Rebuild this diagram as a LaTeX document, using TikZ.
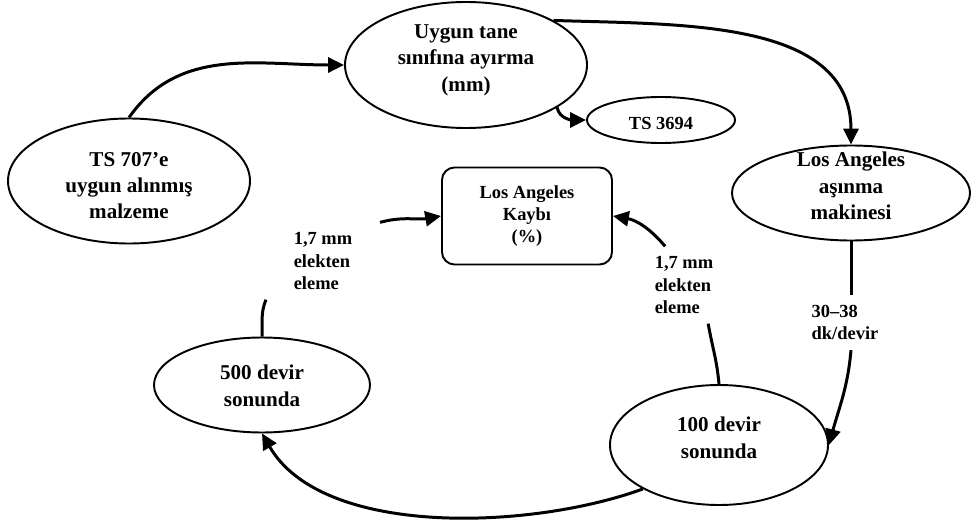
\documentclass[tikz,border=0pt]{standalone}
\usepackage{fontspec}
\setmainfont{Liberation Serif}
\usetikzlibrary{positioning,shapes,arrows.meta}
\tikzstyle{line} = [draw, -{Triangle[length=9pt,width=8.5pt]}, line width=1.7pt]
\tikzstyle{link} = [draw, line width=1.7pt]
\tikzstyle{oval} = [ellipse, draw=black, line width=1.1pt, inner sep=0pt, font=\fontsize{12}{15}\selectfont\bfseries]
\tikzstyle{note} = [align=left, inner xsep=0.55cm, inner ysep=0.2cm, font=\fontsize{10.5}{12.6}\selectfont\bfseries]
\newcommand{\Ov}[2][0pt]{\smash{\raisebox{#1}{\begin{tabular}{@{}c@{}}#2\end{tabular}}}}

\begin{document}
\begin{tikzpicture}[node distance=0.5cm, on grid]
\useasboundingbox (0,0) rectangle (19.42,-10.42);

\node (ts707) [oval, minimum width=4.84cm, minimum height=2.5cm] at (2.58,-3.62) {\Ov[-6.5pt]{TS 707'e\\uygun alınmış\\malzeme}};

\node (uygun) [oval, minimum width=4.84cm, minimum height=2.52cm, above right=2.32cm and 6.74cm of ts707] {\Ov{Uygun tane\\sınıfına ayırma\\(mm)}};
\path [line] (ts707.north) to[out=55,in=180] (uygun.west);

\node (ts3694) [oval, minimum width=2.96cm, minimum height=0.92cm, font=\fontsize{10.5}{12.6}\selectfont\bfseries, below right=1.1cm and 3.9cm of uygun] {\Ov[-5.5pt]{TS 3694}};
\path [line] (uygun.-25) to[out=-80,in=180] (ts3694.west);

\node (la) [oval, minimum width=4.76cm, minimum height=1.9cm, below right=2.56cm and 7.7cm of uygun] {\Ov{Los Angeles\\aşınma\\makinesi}};
\path [line] (uygun.27) to[out=-2,in=90] (la.north);

\node (kayip) [rectangle, rounded corners=0.25cm, draw=black, line width=1.1pt, minimum width=3.4cm, minimum height=1.94cm, align=center, font=\fontsize{10.5}{12.6}\selectfont\bfseries, below right=3.02cm and 1.22cm of uygun] {Los Angeles\\Kaybı\\(\%)};

\node (d100) [oval, minimum width=4.36cm, minimum height=2.4cm, below left=5.04cm and 2.64cm of la] {\Ov{100 devir\\sonunda}};

\node (rpm) [note, below left=2.59cm and 0.12cm of la] {30--38\\dk/devir};
\path [link] (la.south) -- (la.south |- rpm.north);
\path [line] (la.south |- rpm.south) to[out=-95,in=75] (d100.east);

\node (sieveR) [note, above left=3.2cm and 0.7cm of d100] {1,7 mm\\elekten\\eleme};
\path [link] (d100.north) to[out=95,in=-80] (sieveR.-58);
\path [line] (sieveR.116) to[out=130,in=-10] (kayip.east);

\node (d500) [oval, minimum width=4.32cm, minimum height=1.9cm, below right=4.08cm and 2.66cm of ts707] {\Ov[-4.5pt]{500 devir\\sonunda}};
\path [line] (d100.210) to[out=200,in=-60,looseness=0.8] (d500.south);

\node (sieveL) [note, above right=2.48cm and 1.22cm of d500] {1,7 mm\\elekten\\eleme};
\path [link] (d500.north) to[out=88,in=-112] (sieveL.south west);
\path [line] (sieveL.north east) to[out=15,in=190] (kayip.west);

\end{tikzpicture}
\end{document}
